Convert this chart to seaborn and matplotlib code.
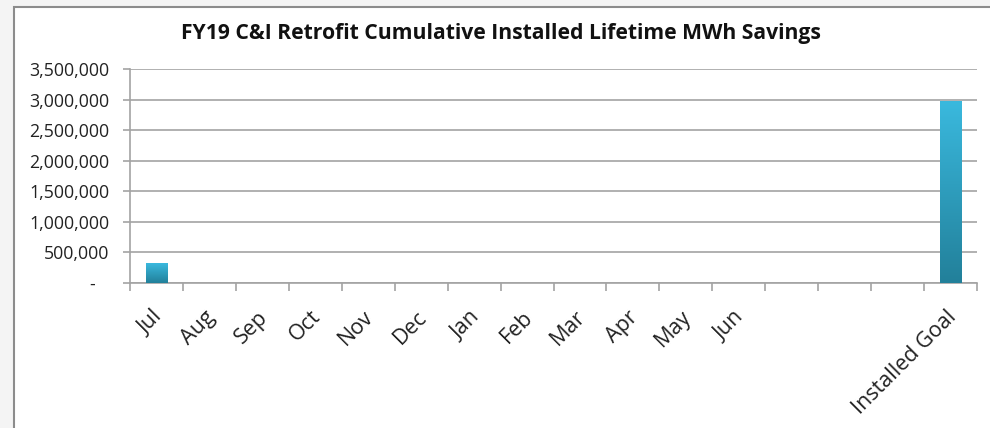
import matplotlib
matplotlib.use("Agg")
import matplotlib.pyplot as plt
import matplotlib.ticker as ticker
import matplotlib.transforms as mtransforms
from matplotlib.patches import Rectangle
from matplotlib.colors import LinearSegmentedColormap
import seaborn as sns
import numpy as np
import pandas as pd

# Data
months = ["Jul", "Aug", "Sep", "Oct", "Nov", "Dec",
          "Jan", "Feb", "Mar", "Apr", "May", "Jun"]
month_savings = [320000, None, None, None, None, None,
                 None, None, None, None, None, None]
blank_slots = [" ", "  ", "   "]
blank_savings = [None, None, None]
goal_label = ["Installed Goal"]
goal_savings = [2970000]

# Parameters
x_fontsize = 15.5
y_fontsize = 12.8
title_fontsize = 15.2
grid_color = "#a3a3a3"
bar_top = "#3ab9de"
bar_bottom = "#22809a"

sns.set_style("white")
plt.rcParams['font.family'] = ['Open Sans', 'DejaVu Sans']

categories = months + blank_slots + goal_label
values = month_savings + blank_savings + goal_savings
df = pd.DataFrame({"Month": categories,
                   "Savings": pd.to_numeric(pd.Series(values), errors="coerce")})

fig = plt.figure(figsize=(9.9, 4.28), dpi=100, facecolor="#f4f4f4")
# white chart area with the grey frame on the left and top
fig.patches.append(Rectangle((14 / 990, -0.05), 1.0, 1.05 - 7 / 428,
                             transform=fig.transFigure, facecolor="white",
                             edgecolor="#8c8c8c", linewidth=1.5, zorder=-5))
ax = fig.add_axes([130 / 990, 1 - 283 / 428, 847 / 990, 214 / 428])
ax.set_zorder(2)
ax.set_facecolor("white")

sns.barplot(data=df, x="Month", y="Savings", order=categories,
            color=bar_top, width=0.4, ax=ax, zorder=3)

# gradient fill for the bars (light on top, darker at the base)
cmap = LinearSegmentedColormap.from_list("bar", [bar_bottom, bar_top])
grad = np.linspace(0, 1, 256).reshape(-1, 1)
for p in list(ax.patches):
    h = p.get_height()
    if not np.isfinite(h) or h == 0:
        continue
    x0 = p.get_x()
    w = p.get_width()
    ax.imshow(grad, extent=[x0, x0 + w, 0, h], origin="lower",
              aspect="auto", cmap=cmap, zorder=3)
    p.set_facecolor("none")
    p.set_edgecolor("none")

ax.set_xlim(-0.5, len(categories) - 0.5)
ax.set_ylim(0, 3500000)
ax.yaxis.set_major_locator(ticker.MultipleLocator(500000))
ax.yaxis.set_major_formatter(ticker.FuncFormatter(
    lambda v, pos: f"{v:,.0f}" if v else "-   "))
ax.grid(axis="y", color=grid_color, linewidth=1.2, zorder=0)
ax.set_axisbelow(True)

# category labels at centres, tick marks at the boundaries (Excel style)
ax.set_xticks(range(len(categories)))
ax.set_xticklabels(categories, rotation=45, ha="right",
                   rotation_mode="anchor", fontsize=x_fontsize)
ax.tick_params(axis="x", which="major", length=0, pad=17, bottom=True)
ax.set_xticks(np.arange(-0.5, len(categories), 1.0), minor=True)
ax.tick_params(axis="x", which="minor", length=6, width=1.2, bottom=True,
               color=grid_color, direction="out")
ax.tick_params(axis="y", length=5, width=1.2, color=grid_color, pad=10,
               left=True, labelsize=y_fontsize, direction="out",
               labelcolor="#222222")
ax.tick_params(axis="x", labelcolor="#222222")
shift = mtransforms.ScaledTranslation(-5 / 100, 0, fig.dpi_scale_trans)
for lab in ax.get_xticklabels():
    lab.set_transform(lab.get_transform() + shift)
ax.set_xlabel("")
ax.set_ylabel("")

for side in ["top", "right"]:
    ax.spines[side].set_visible(False)
for side in ["left", "bottom"]:
    ax.spines[side].set_color(grid_color)
    ax.spines[side].set_linewidth(1.2)

fig.text(501 / 990, 1 - 33 / 428,
         "FY19 C&I Retrofit Cumulative Installed Lifetime MWh Savings",
         ha="center", va="center", fontsize=title_fontsize,
         fontweight="bold", color="#111111")

fig.savefig("out.png", dpi=100, facecolor=fig.get_facecolor())
